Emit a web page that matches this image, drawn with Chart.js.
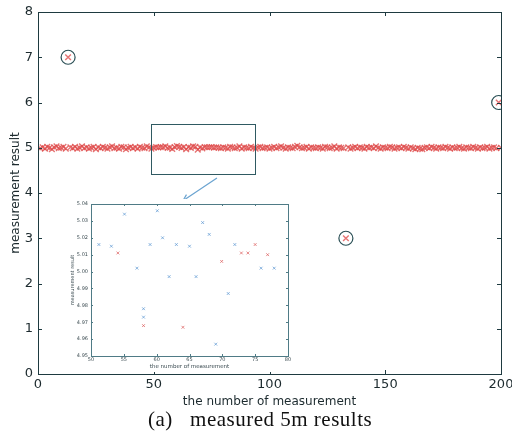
<!DOCTYPE html>
<html><head><meta charset="utf-8">
<script src="https://cdn.jsdelivr.net/npm/chart.js@4/dist/chart.umd.min.js"></script>
<style>
html,body{margin:0;padding:0;background:#fff;width:512px;height:432px;overflow:hidden;}
#main{position:absolute;left:0;top:0;}
#inset{position:absolute;left:60px;top:199px;background:#fff;}
#cap{position:absolute;left:148px;top:409px;line-height:20px;font-family:"Liberation Serif","Times New Roman",serif;font-size:21px;letter-spacing:0.5px;color:#111;white-space:pre;}
</style></head>
<body>
<canvas id="main" width="512" height="409"></canvas>
<canvas id="inset" width="236" height="173"></canvas>
<div id="cap">(a)   measured 5m results</div>
<script>
// ---- data ----
const mainValues = [
4.99,5.01,4.98,5.02,5.00,4.97,5.01,5.03,4.99,5.00,
5.02,4.98,7.00,5.01,4.99,5.02,4.98,5.00,5.03,4.99,
5.01,4.98,5.00,5.02,4.97,5.01,4.99,5.02,5.00,4.98,
5.01,5.03,4.99,5.00,4.98,5.02,5.01,4.97,5.00,5.02,
4.99,5.01,4.98,5.02,5.00,4.99,5.03,5.01,4.98,5.00,
5.016,5.005,5.015,5.011,5.034,4.995,5.002,4.973,5.016,5.036,
5.020,4.997,5.016,4.967,5.015,4.997,5.029,5.022,4.957,5.006,
4.987,5.016,5.011,5.011,5.016,5.002,5.010,5.002,4.99,5.01,
5.00,4.98,5.02,5.01,4.99,5.00,5.03,4.98,5.01,5.00,
4.99,5.02,5.00,4.98,5.01,5.02,4.99,5.00,5.01,4.98,
5.00,5.02,4.99,5.01,5.03,5.00,4.98,5.01,5.00,4.99,
5.02,5.04,5.01,4.99,5.00,5.02,4.98,5.01,5.00,4.99,
5.01,5.00,4.98,5.02,5.01,4.99,5.00,5.03,4.98,5.01,
5.00,4.99,3.00,5.01,4.98,5.00,5.02,4.99,5.01,5.00,
4.98,5.02,5.00,5.01,4.99,5.03,5.00,4.98,5.01,5.00,
4.99,5.02,5.01,4.98,5.00,5.01,4.99,5.02,5.00,4.98,
5.01,4.99,4.97,5.00,4.98,4.97,5.00,5.01,4.99,5.02,
5.00,4.98,5.01,5.00,4.99,5.02,5.00,4.98,5.01,4.99,
5.00,5.02,4.99,4.98,5.01,5.00,4.99,5.02,5.00,4.98,
5.01,4.99,5.00,5.02,4.98,5.00,5.01,4.99,6.00,5.00
];
const outlierX = [13, 133, 199];
const outlierY = [7.0, 3.0, 6.0];
const insetBlueX = [51.2,53.1,55.1,57.0,58.0,58.0,59.0,60.1,60.9,61.9,63.0,65.0,66.0,67.0,68.0,69.0,70.9,71.9,75.9,77.9];
const insetBlueY = [5.016,5.015,5.034,5.002,4.978,4.973,5.016,5.036,5.020,4.997,5.016,5.015,4.997,5.029,5.022,4.957,4.987,5.016,5.002,5.002];
const insetRedX = [54.1,58.0,64.0,69.9,72.9,73.9,75.0,76.9];
const insetRedY = [5.011,4.968,4.967,5.006,5.011,5.011,5.016,5.010];
const mainXTicks = [0,50,100,150,200];
const mainYTicks = [0,1,2,3,4,5,6,7,8];
const insetXTicks = [50,55,60,65,70,75,80];
const insetYTicks = [4.95,4.96,4.97,4.98,4.99,5.00,5.01,5.02,5.03,5.04];
const zoomBox = {x0:49, x1:94, y0:4.42, y1:5.52};
const arrowFrom = {x:77.3, y:4.33};
const arrowTo = {x:62.6, y:3.83};

const axisColor = '#1e3a40';
const textColor = '#1c2a2e';

function boxPlugin(color, tickLen, xt, yt){
  return {
    id:'box',
    afterDatasetsDraw(chart){
      const {ctx, chartArea:a, scales:{x,y}} = chart;
      ctx.save();
      ctx.strokeStyle = color; ctx.lineWidth = 1;
      ctx.strokeRect(Math.round(a.left)+0.5, Math.round(a.top)+0.5, Math.round(a.right-a.left), Math.round(a.bottom-a.top));
      ctx.beginPath();
      xt.forEach(v=>{const px=Math.round(x.getPixelForValue(v))+0.5;
        ctx.moveTo(px,a.bottom); ctx.lineTo(px,a.bottom-tickLen);
        ctx.moveTo(px,a.top); ctx.lineTo(px,a.top+tickLen);});
      yt.forEach(v=>{const py=Math.round(y.getPixelForValue(v))+0.5;
        ctx.moveTo(a.left,py); ctx.lineTo(a.left+tickLen,py);
        ctx.moveTo(a.right,py); ctx.lineTo(a.right-tickLen,py);});
      ctx.stroke();
      ctx.restore();
    }
  };
}

const annotPlugin = {
  id:'annot',
  afterDatasetsDraw(chart){
    const {ctx, scales:{x,y}} = chart;
    ctx.save();
    ctx.strokeStyle = '#2f5a62'; ctx.lineWidth = 1;
    const l=x.getPixelForValue(zoomBox.x0), r=x.getPixelForValue(zoomBox.x1);
    const t=y.getPixelForValue(zoomBox.y1), b=y.getPixelForValue(zoomBox.y0);
    ctx.strokeRect(Math.round(l)+0.5, Math.round(t)+0.5, Math.round(r-l), Math.round(b-t));
    const x1=x.getPixelForValue(arrowFrom.x), y1=y.getPixelForValue(arrowFrom.y);
    const x2=x.getPixelForValue(arrowTo.x), y2=y.getPixelForValue(arrowTo.y);
    ctx.strokeStyle = '#6aa3d0'; ctx.lineWidth = 1.2;
    ctx.beginPath(); ctx.moveTo(x1,y1); ctx.lineTo(x2,y2); ctx.stroke();
    const ang=Math.atan2(y2-y1,x2-x1), h=7;
    ctx.beginPath();
    ctx.moveTo(x2,y2); ctx.lineTo(x2-h*Math.cos(ang-0.45), y2-h*Math.sin(ang-0.45));
    ctx.moveTo(x2,y2); ctx.lineTo(x2-h*Math.cos(ang+0.45), y2-h*Math.sin(ang+0.45));
    ctx.stroke();
    ctx.restore();
  }
};

const mainPts = mainValues.map((v,i)=>({x:i+1,y:v}));
const outPts = outlierX.map((v,i)=>({x:v,y:outlierY[i]}));

new Chart(document.getElementById('main'), {
  type:'scatter',
  data:{datasets:[
    {data:mainPts, pointStyle:'crossRot', radius:4, borderWidth:1.4, borderColor:'rgba(222,70,70,0.75)', backgroundColor:'rgba(222,70,70,0.75)'},
    {data:outPts, pointStyle:'circle', radius:7, borderWidth:1.2, borderColor:'#2a4f55', backgroundColor:'rgba(0,0,0,0)'}
  ]},
  options:{
    responsive:false, animation:false, events:[],
    layout:{padding:{top:12,right:11,left:0,bottom:0}},
    plugins:{legend:{display:false}, tooltip:{enabled:false}},
    scales:{
      x:{type:'linear', min:0, max:200, grid:{display:false, drawTicks:false}, border:{display:false},
        afterBuildTicks:s=>{s.ticks=mainXTicks.map(v=>({value:v}));},
        ticks:{color:textColor, padding:3, font:{family:'DejaVu Sans', size:13}, maxRotation:0},
        title:{display:true, text:'the number of measurement', color:textColor, font:{family:'DejaVu Sans', size:12}, padding:{top:0,bottom:0}},
        afterFit:s=>{s.height=35; s.paddingLeft=0; s.paddingRight=0;}},
      y:{type:'linear', min:0, max:8, grid:{display:false, drawTicks:false}, border:{display:false},
        afterBuildTicks:s=>{s.ticks=mainYTicks.map(v=>({value:v}));},
        ticks:{color:textColor, padding:5, font:{family:'DejaVu Sans', size:13}},
        title:{display:true, text:'measurement result', color:textColor, font:{family:'DejaVu Sans', size:12}, padding:{top:9,bottom:0}},
        afterFit:s=>{s.width=38; s.paddingTop=0; s.paddingBottom=0;}}
    }
  },
  plugins:[boxPlugin(axisColor,4,mainXTicks,mainYTicks), annotPlugin]
});

const insetColor='#4f7b86';
const insetText='#3a4a50';
new Chart(document.getElementById('inset'), {
  type:'scatter',
  data:{datasets:[
    {data:insetBlueX.map((v,i)=>({x:v,y:insetBlueY[i]})), pointStyle:'crossRot', radius:2, borderWidth:1, borderColor:'rgba(90,150,210,0.7)'},
    {data:insetRedX.map((v,i)=>({x:v,y:insetRedY[i]})), pointStyle:'crossRot', radius:2, borderWidth:1, borderColor:'rgba(220,90,90,0.7)'}
  ]},
  options:{
    responsive:false, animation:false, events:[],
    layout:{padding:{top:3,right:8,left:0,bottom:0}},
    plugins:{legend:{display:false}, tooltip:{enabled:false}},
    scales:{
      x:{type:'linear', min:50, max:80, grid:{display:false, drawTicks:false}, border:{display:false},
        afterBuildTicks:s=>{s.ticks=insetXTicks.map(v=>({value:v}));},
        ticks:{color:insetText, padding:1, font:{family:'DejaVu Sans', size:5}, maxRotation:0},
        title:{display:true, text:'the number of measurement', color:insetText, font:{family:'DejaVu Sans', size:5.5}, padding:{top:0,bottom:2}},
        afterFit:s=>{s.height=16; s.paddingLeft=0; s.paddingRight=0;}},
      y:{type:'linear', min:4.95, max:5.04, grid:{display:false, drawTicks:false}, border:{display:false},
        afterBuildTicks:s=>{s.ticks=insetYTicks.map(v=>({value:v}));},
        ticks:{color:insetText, padding:3, font:{family:'DejaVu Sans', size:5}, callback:v=>v.toFixed(2)},
        title:{display:true, text:'measurement result', color:insetText, font:{family:'DejaVu Sans', size:5}, padding:{top:10,bottom:0}},
        afterFit:s=>{s.width=31; s.paddingTop=0; s.paddingBottom=0;}}
    }
  },
  plugins:[boxPlugin(insetColor,2,insetXTicks,insetYTicks)]
});
</script>
</body></html>
